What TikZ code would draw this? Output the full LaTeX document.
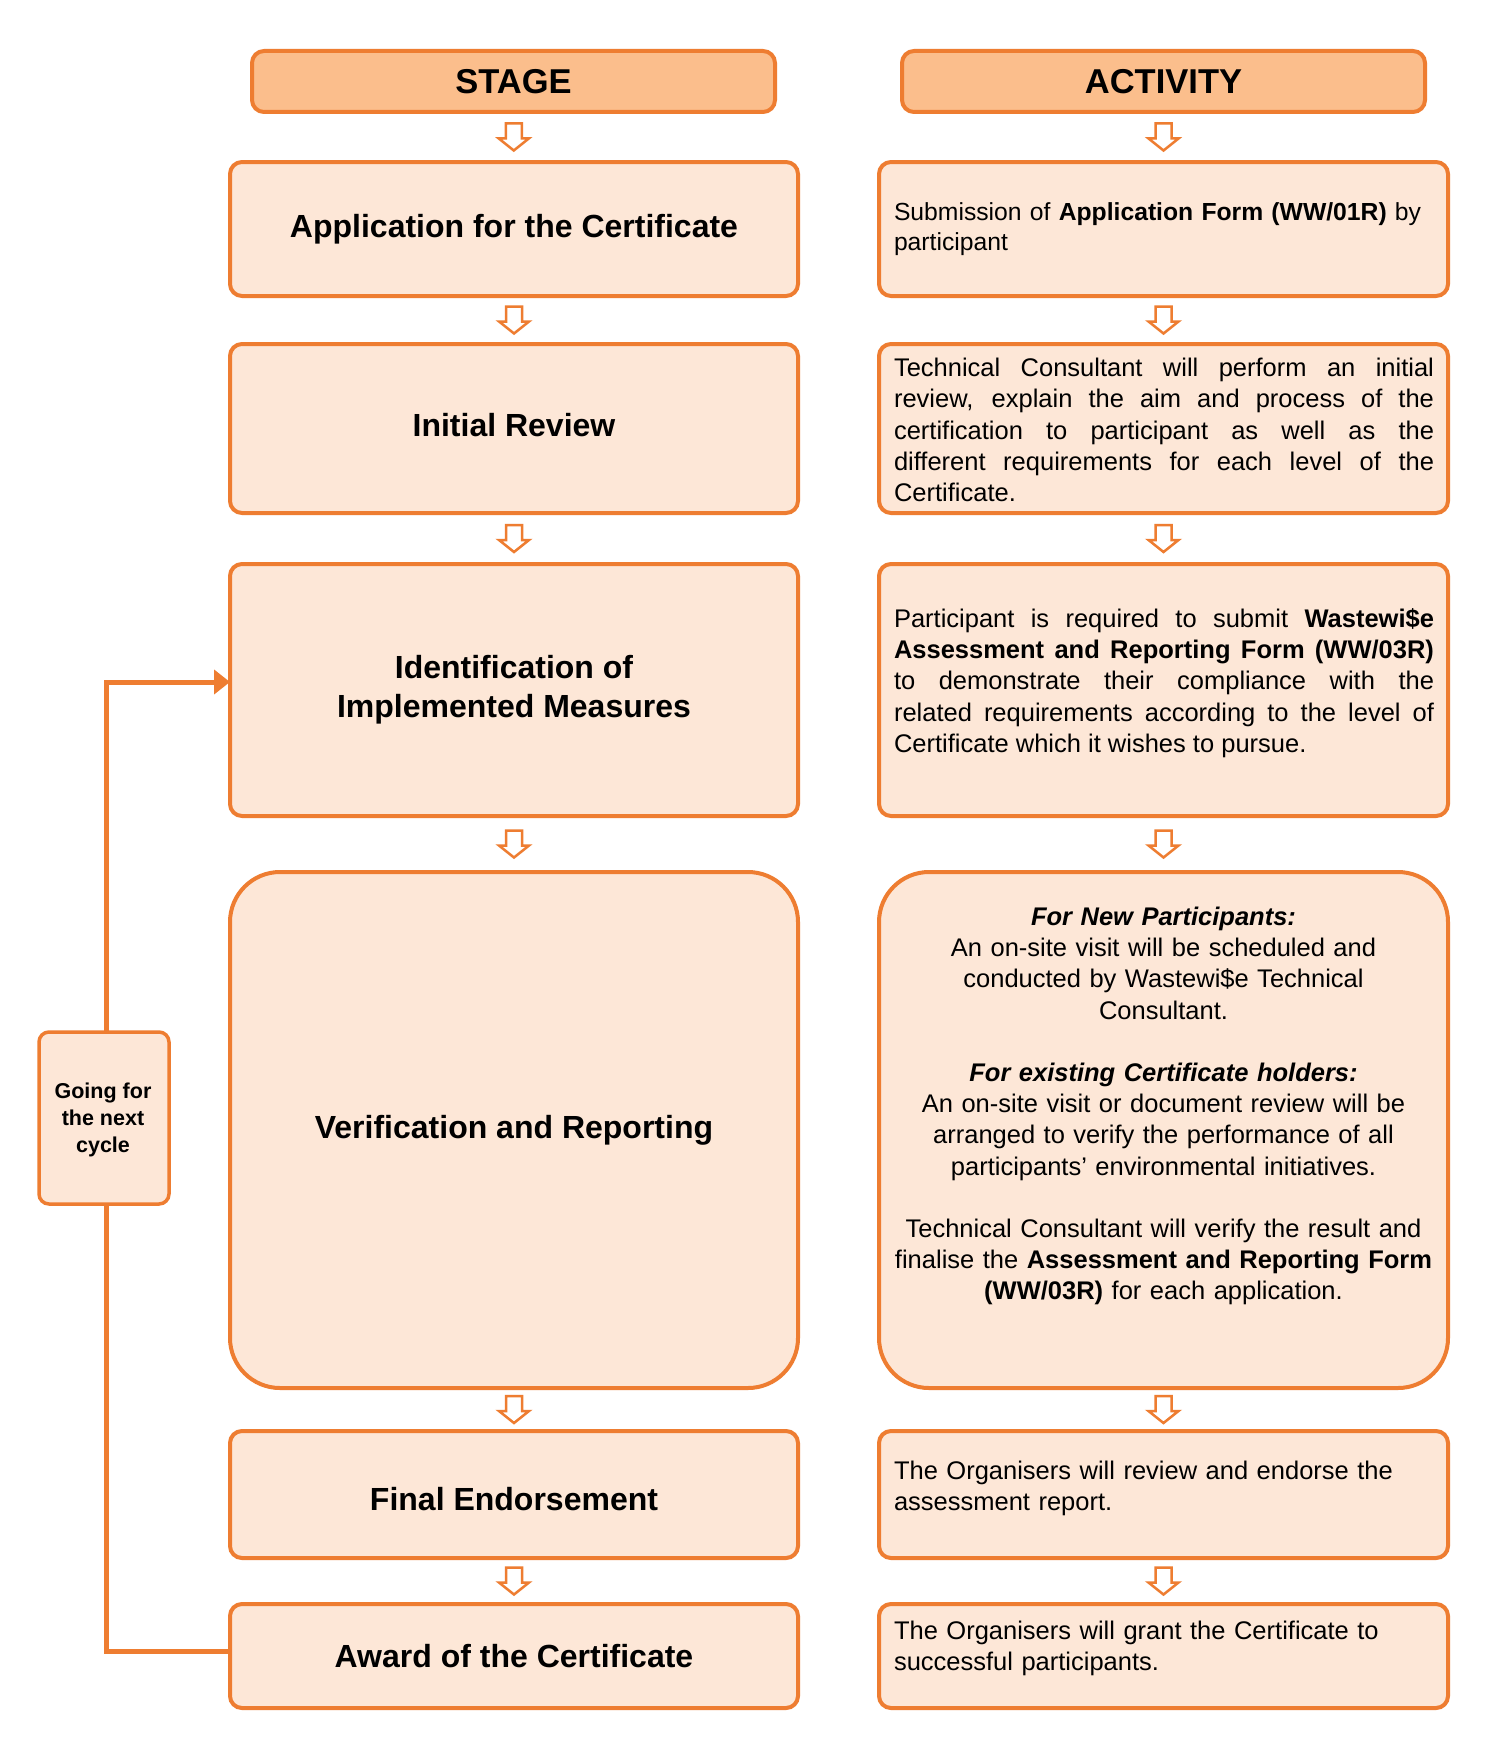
\documentclass[tikz,border=0pt]{standalone}
\usepackage{fontspec}
\setmainfont{Liberation Sans}
\usetikzlibrary{arrows.meta,calc}
\definecolor{bord}{HTML}{EE7D31}
\definecolor{boxfill}{HTML}{FDE7D7}
\definecolor{headfill}{HTML}{FBBE8C}
\newcommand\hollowdown[2]{%
  \draw[harrow] ($(#1.south)!0.5!(#2.north)$) ++(-8,-13.5) -- ++(16,0) -- ++(0,15) -- ++(7,0) -- ++(-15,12) -- ++(-15,-12) -- ++(7,0) -- cycle;}
\begin{document}
\begin{tikzpicture}[x=1pt,y=-1pt,
  every node/.style={inner sep=0pt, outer sep=0pt},
  boxbase/.style={draw=bord, fill=boxfill, line width=4pt, rounded corners=12pt},
  header/.style={boxbase, fill=headfill, minimum width=523pt, minimum height=61pt, font=\fontsize{34.5}{40}\selectfont\bfseries},
  stagebox/.style={boxbase, minimum width=568pt, align=center, font=\fontsize{32}{39}\selectfont\bfseries},
  stagetext/.style={align=center, font=\fontsize{32}{39}\selectfont\bfseries},
  actbox/.style={boxbase, minimum width=569pt},
  acttext/.style={font=\fontsize{25.5}{31.2}\selectfont},
  harrow/.style={draw=bord, fill=white, line width=2.5pt, line join=miter},
  loopline/.style={draw=bord, line width=5pt},
  goingbox/.style={boxbase, line width=3.5pt, rounded corners=10pt, minimum width=130pt, minimum height=172pt},
  goingtext/.style={align=center, font=\fontsize{21.5}{27}\selectfont\bfseries}
]
\fill[white] (0,0) rectangle (1500,1750);
\useasboundingbox (0,0) rectangle (1500,1750);

% headers
\node[header] (h1) at (513.5,81.5) {STAGE};
\node[header] (h2) at (1163.5,81.5) {ACTIVITY};

% stage boxes
\node[stagebox, minimum height=134pt] (s1) at (514,229) {Application for the Certificate};
\node[stagebox, minimum height=169pt] (s2) at (514,428.5) {};
\node[stagetext] (s2t) at (514,425) {Initial Review};
\node[stagebox, minimum height=252pt] (s3) at (514,690) {Identification of\\Implemented Measures};
\node[stagebox, minimum height=516pt, rounded corners=50pt] (s4) at (514,1130) {Verification and Reporting};
\node[stagebox, minimum height=127pt] (s5) at (514,1494.5) {};
\node[stagetext] (s5t) at (514,1499) {Final Endorsement};
\node[stagebox, minimum height=104pt] (s6) at (514,1656) {Award of the Certificate};

% activity boxes
\node[actbox, minimum height=134pt] (a1) at (1163.5,229) {};
\node[actbox, minimum height=169pt] (a2) at (1163.5,428.5) {};
\node[actbox, minimum height=252pt] (a3) at (1163.5,690) {};
\node[actbox, minimum height=516pt, rounded corners=50pt] (a4) at (1163.5,1130) {};
\node[actbox, minimum height=127pt] (a5) at (1163.5,1494.5) {};
\node[actbox, minimum height=104pt] (a6) at (1163.5,1656) {};

% activity texts
\node[acttext, font=\fontsize{24.7}{30.5}\selectfont, anchor=west, text width=556pt, align=left] (t1) at (894,229)
  {Submission of \textbf{Application Form (WW/01R)} by\\participant};
\node[acttext, text width=540pt, align=justify] (t2) at (1164,430)
  {Technical Consultant will perform an initial\linebreak
   review, explain the aim and process of the\linebreak
   certification to participant as well as the\linebreak
   different requirements for each level of the\linebreak
   Certificate.};
\node[acttext, text width=540pt, align=justify] (t3) at (1164,683)
  {Participant is required to submit \textbf{Wastewi\$e}\linebreak
   \textbf{Assessment and Reporting Form (WW/03R)}\linebreak
   to demonstrate their compliance with the\linebreak
   related requirements according to the level of\linebreak
   Certificate which it wishes to pursue.};
\node[acttext, text width=556pt, align=center] (t4) at (1163.5,1106)
  {\textbf{\textit{For New Participants:}}\\
   An on-site visit will be scheduled and\\
   conducted by Wastewi\$e Technical\\
   Consultant.\\[31.2pt]
   \textbf{\textit{For existing Certificate holders:}}\\
   An on-site visit or document review will be\\
   arranged to verify the performance of all\\
   participants’ environmental initiatives.\\[31.2pt]
   Technical Consultant will verify the result and\\
   finalise the \textbf{Assessment and Reporting Form}\\
   \textbf{(WW/03R)} for each application.};
\node[acttext, anchor=west, text width=556pt, align=left] (t5) at (894,1488)
  {The Organisers will review and endorse the\\assessment report.};
\node[acttext, anchor=west, text width=556pt, align=left] (t6) at (894,1648)
  {The Organisers will grant the Certificate to\\successful participants.};

% loop box
\node[goingbox] (g) at (104,1118) {};
\node[goingtext] (gt) at (103,1120) {Going for\\the next\\cycle};
\draw[loopline, -{Triangle[length=16pt,width=24pt]}] ([xshift=2pt]g.north) |- ([yshift=8pt]s3.west);
\draw[loopline] ([xshift=2pt]g.south) |- ([yshift=5pt]s6.west);

% hollow arrows
\hollowdown{h1}{s1}
\hollowdown{s1}{s2}
\hollowdown{s2}{s3}
\hollowdown{s3}{s4}
\hollowdown{s4}{s5}
\hollowdown{s5}{s6}
\hollowdown{h2}{a1}
\hollowdown{a1}{a2}
\hollowdown{a2}{a3}
\hollowdown{a3}{a4}
\hollowdown{a4}{a5}
\hollowdown{a5}{a6}
\end{tikzpicture}
\end{document}
